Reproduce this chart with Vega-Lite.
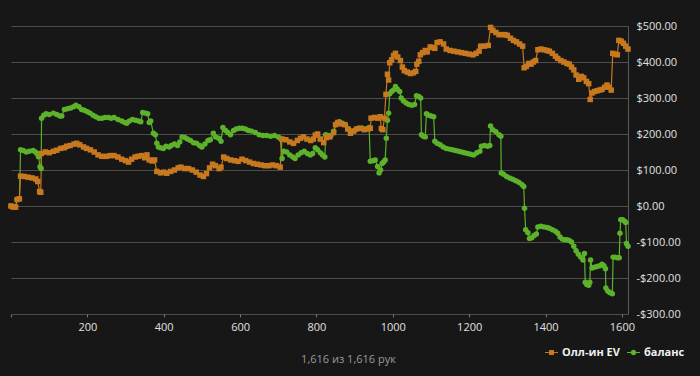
{
"$schema": "https://vega.github.io/schema/vega-lite/v6.json",
"width": 617, "height": 288,
"autosize": {"type": "none"},
"padding": {"left": 11, "top": 26, "right": 72, "bottom": 62},
"background": "#171717",
"config": {"view": {"stroke": null}, "font": "Open Sans"},
"data": {"values": [
{"s":"баланс","h":0,"v":0},{"s":"баланс","h":12,"v":-2},{"s":"баланс","h":16,"v":18},{"s":"баланс","h":22,"v":20},{"s":"баланс","h":25,"v":156},{"s":"баланс","h":32,"v":154},{"s":"баланс","h":40,"v":150},{"s":"баланс","h":48,"v":152},{"s":"баланс","h":58,"v":154},{"s":"баланс","h":64,"v":150},{"s":"баланс","h":68,"v":146},{"s":"баланс","h":72,"v":137},{"s":"баланс","h":76,"v":109},{"s":"баланс","h":79,"v":104},{"s":"баланс","h":80,"v":244},{"s":"баланс","h":86,"v":252},{"s":"баланс","h":92,"v":256},{"s":"баланс","h":100,"v":254},{"s":"баланс","h":111,"v":258},{"s":"баланс","h":120,"v":254},{"s":"баланс","h":128,"v":250},{"s":"баланс","h":133,"v":250},{"s":"баланс","h":140,"v":268},{"s":"баланс","h":148,"v":270},{"s":"баланс","h":156,"v":272},{"s":"баланс","h":164,"v":276},{"s":"баланс","h":170,"v":280},{"s":"баланс","h":178,"v":276},{"s":"баланс","h":185,"v":268},{"s":"баланс","h":192,"v":266},{"s":"баланс","h":200,"v":262},{"s":"баланс","h":207,"v":258},{"s":"баланс","h":215,"v":252},{"s":"баланс","h":222,"v":248},{"s":"баланс","h":230,"v":244},{"s":"баланс","h":238,"v":244},{"s":"баланс","h":246,"v":246},{"s":"баланс","h":255,"v":246},{"s":"баланс","h":262,"v":244},{"s":"баланс","h":270,"v":246},{"s":"баланс","h":280,"v":240},{"s":"баланс","h":290,"v":236},{"s":"баланс","h":298,"v":232},{"s":"баланс","h":303,"v":230},{"s":"баланс","h":310,"v":236},{"s":"баланс","h":318,"v":240},{"s":"баланс","h":326,"v":238},{"s":"баланс","h":334,"v":236},{"s":"баланс","h":340,"v":234},{"s":"баланс","h":345,"v":260},{"s":"баланс","h":352,"v":258},{"s":"баланс","h":358,"v":256},{"s":"баланс","h":362,"v":232},{"s":"баланс","h":366,"v":236},{"s":"баланс","h":373,"v":202},{"s":"баланс","h":378,"v":198},{"s":"баланс","h":382,"v":174},{"s":"баланс","h":386,"v":164},{"s":"баланс","h":392,"v":162},{"s":"баланс","h":399,"v":160},{"s":"баланс","h":406,"v":166},{"s":"баланс","h":414,"v":164},{"s":"баланс","h":420,"v":168},{"s":"баланс","h":428,"v":172},{"s":"баланс","h":436,"v":168},{"s":"баланс","h":442,"v":178},{"s":"баланс","h":448,"v":192},{"s":"баланс","h":455,"v":190},{"s":"баланс","h":462,"v":186},{"s":"баланс","h":470,"v":182},{"s":"баланс","h":478,"v":176},{"s":"баланс","h":486,"v":174},{"s":"баланс","h":494,"v":168},{"s":"баланс","h":500,"v":164},{"s":"баланс","h":508,"v":172},{"s":"баланс","h":516,"v":182},{"s":"баланс","h":522,"v":184},{"s":"баланс","h":530,"v":202},{"s":"баланс","h":536,"v":192},{"s":"баланс","h":544,"v":188},{"s":"баланс","h":550,"v":180},{"s":"баланс","h":555,"v":218},{"s":"баланс","h":562,"v":210},{"s":"баланс","h":568,"v":204},{"s":"баланс","h":575,"v":198},{"s":"баланс","h":583,"v":210},{"s":"баланс","h":590,"v":214},{"s":"баланс","h":598,"v":216},{"s":"баланс","h":606,"v":216},{"s":"баланс","h":614,"v":214},{"s":"баланс","h":622,"v":210},{"s":"баланс","h":630,"v":208},{"s":"баланс","h":640,"v":204},{"s":"баланс","h":650,"v":198},{"s":"баланс","h":660,"v":196},{"s":"баланс","h":670,"v":196},{"s":"баланс","h":680,"v":194},{"s":"баланс","h":690,"v":196},{"s":"баланс","h":700,"v":192},{"s":"баланс","h":705,"v":188},{"s":"баланс","h":710,"v":132},{"s":"баланс","h":714,"v":152},{"s":"баланс","h":722,"v":150},{"s":"баланс","h":730,"v":142},{"s":"баланс","h":738,"v":136},{"s":"баланс","h":744,"v":132},{"s":"баланс","h":752,"v":142},{"s":"баланс","h":760,"v":148},{"s":"баланс","h":768,"v":152},{"s":"баланс","h":776,"v":146},{"s":"баланс","h":784,"v":142},{"s":"баланс","h":790,"v":146},{"s":"баланс","h":797,"v":162},{"s":"баланс","h":803,"v":156},{"s":"баланс","h":810,"v":148},{"s":"баланс","h":816,"v":142},{"s":"баланс","h":822,"v":136},{"s":"баланс","h":824,"v":198},{"s":"баланс","h":830,"v":196},{"s":"баланс","h":838,"v":196},{"s":"баланс","h":845,"v":208},{"s":"баланс","h":852,"v":228},{"s":"баланс","h":860,"v":234},{"s":"баланс","h":868,"v":230},{"s":"баланс","h":876,"v":226},{"s":"баланс","h":884,"v":214},{"s":"баланс","h":892,"v":206},{"s":"баланс","h":900,"v":210},{"s":"баланс","h":910,"v":216},{"s":"баланс","h":920,"v":216},{"s":"баланс","h":930,"v":214},{"s":"баланс","h":938,"v":218},{"s":"баланс","h":941,"v":124},{"s":"баланс","h":948,"v":126},{"s":"баланс","h":954,"v":128},{"s":"баланс","h":960,"v":110},{"s":"баланс","h":964,"v":92},{"s":"баланс","h":968,"v":100},{"s":"баланс","h":972,"v":118},{"s":"баланс","h":976,"v":122},{"s":"баланс","h":980,"v":128},{"s":"баланс","h":983,"v":188},{"s":"баланс","h":986,"v":238},{"s":"баланс","h":989,"v":258},{"s":"баланс","h":992,"v":312},{"s":"баланс","h":997,"v":318},{"s":"баланс","h":1002,"v":322},{"s":"баланс","h":1007,"v":332},{"s":"баланс","h":1012,"v":324},{"s":"баланс","h":1018,"v":318},{"s":"баланс","h":1022,"v":300},{"s":"баланс","h":1028,"v":292},{"s":"баланс","h":1035,"v":286},{"s":"баланс","h":1042,"v":282},{"s":"баланс","h":1050,"v":280},{"s":"баланс","h":1057,"v":282},{"s":"баланс","h":1062,"v":306},{"s":"баланс","h":1068,"v":304},{"s":"баланс","h":1073,"v":300},{"s":"баланс","h":1075,"v":198},{"s":"баланс","h":1080,"v":194},{"s":"баланс","h":1085,"v":192},{"s":"баланс","h":1088,"v":256},{"s":"баланс","h":1094,"v":252},{"s":"баланс","h":1100,"v":250},{"s":"баланс","h":1107,"v":248},{"s":"баланс","h":1110,"v":180},{"s":"баланс","h":1116,"v":174},{"s":"баланс","h":1124,"v":170},{"s":"баланс","h":1132,"v":164},{"s":"баланс","h":1140,"v":160},{"s":"баланс","h":1148,"v":158},{"s":"баланс","h":1156,"v":156},{"s":"баланс","h":1164,"v":154},{"s":"баланс","h":1172,"v":152},{"s":"баланс","h":1180,"v":150},{"s":"баланс","h":1188,"v":148},{"s":"баланс","h":1196,"v":146},{"s":"баланс","h":1204,"v":144},{"s":"баланс","h":1212,"v":142},{"s":"баланс","h":1220,"v":148},{"s":"баланс","h":1228,"v":152},{"s":"баланс","h":1232,"v":166},{"s":"баланс","h":1240,"v":168},{"s":"баланс","h":1248,"v":166},{"s":"баланс","h":1254,"v":168},{"s":"баланс","h":1256,"v":222},{"s":"баланс","h":1262,"v":212},{"s":"баланс","h":1270,"v":206},{"s":"баланс","h":1278,"v":198},{"s":"баланс","h":1283,"v":194},{"s":"баланс","h":1284,"v":92},{"s":"баланс","h":1290,"v":88},{"s":"баланс","h":1298,"v":82},{"s":"баланс","h":1306,"v":78},{"s":"баланс","h":1314,"v":74},{"s":"баланс","h":1322,"v":70},{"s":"баланс","h":1330,"v":66},{"s":"баланс","h":1338,"v":60},{"s":"баланс","h":1343,"v":54},{"s":"баланс","h":1345,"v":-6},{"s":"баланс","h":1348,"v":-66},{"s":"баланс","h":1354,"v":-74},{"s":"баланс","h":1358,"v":-90},{"s":"баланс","h":1364,"v":-88},{"s":"баланс","h":1370,"v":-82},{"s":"баланс","h":1376,"v":-78},{"s":"баланс","h":1380,"v":-58},{"s":"баланс","h":1388,"v":-56},{"s":"баланс","h":1396,"v":-58},{"s":"баланс","h":1404,"v":-60},{"s":"баланс","h":1410,"v":-62},{"s":"баланс","h":1418,"v":-66},{"s":"баланс","h":1426,"v":-70},{"s":"баланс","h":1432,"v":-76},{"s":"баланс","h":1438,"v":-86},{"s":"баланс","h":1444,"v":-92},{"s":"баланс","h":1450,"v":-94},{"s":"баланс","h":1456,"v":-94},{"s":"баланс","h":1462,"v":-96},{"s":"баланс","h":1468,"v":-100},{"s":"баланс","h":1474,"v":-112},{"s":"баланс","h":1480,"v":-124},{"s":"баланс","h":1486,"v":-134},{"s":"баланс","h":1492,"v":-142},{"s":"баланс","h":1498,"v":-150},{"s":"баланс","h":1502,"v":-132},{"s":"баланс","h":1504,"v":-212},{"s":"баланс","h":1508,"v":-218},{"s":"баланс","h":1513,"v":-220},{"s":"баланс","h":1516,"v":-212},{"s":"баланс","h":1518,"v":-150},{"s":"баланс","h":1522,"v":-172},{"s":"баланс","h":1528,"v":-170},{"s":"баланс","h":1535,"v":-168},{"s":"баланс","h":1542,"v":-166},{"s":"баланс","h":1548,"v":-162},{"s":"баланс","h":1553,"v":-166},{"s":"баланс","h":1557,"v":-174},{"s":"баланс","h":1558,"v":-228},{"s":"баланс","h":1563,"v":-236},{"s":"баланс","h":1568,"v":-240},{"s":"баланс","h":1575,"v":-244},{"s":"баланс","h":1577,"v":-142},{"s":"баланс","h":1582,"v":-142},{"s":"баланс","h":1588,"v":-144},{"s":"баланс","h":1593,"v":-144},{"s":"баланс","h":1595,"v":-76},{"s":"баланс","h":1597,"v":-38},{"s":"баланс","h":1602,"v":-38},{"s":"баланс","h":1607,"v":-42},{"s":"баланс","h":1610,"v":-46},{"s":"баланс","h":1612,"v":-104},{"s":"баланс","h":1616,"v":-112},
{"s":"Олл-ин EV","h":0,"v":0},{"s":"Олл-ин EV","h":5,"v":-3},{"s":"Олл-ин EV","h":12,"v":-3},{"s":"Олл-ин EV","h":16,"v":18},{"s":"Олл-ин EV","h":22,"v":20},{"s":"Олл-ин EV","h":25,"v":83},{"s":"Олл-ин EV","h":35,"v":82},{"s":"Олл-ин EV","h":45,"v":80},{"s":"Олл-ин EV","h":55,"v":78},{"s":"Олл-ин EV","h":65,"v":75},{"s":"Олл-ин EV","h":70,"v":68},{"s":"Олл-ин EV","h":75,"v":40},{"s":"Олл-ин EV","h":78,"v":38},{"s":"Олл-ин EV","h":80,"v":146},{"s":"Олл-ин EV","h":90,"v":150},{"s":"Олл-ин EV","h":100,"v":148},{"s":"Олл-ин EV","h":111,"v":152},{"s":"Олл-ин EV","h":120,"v":155},{"s":"Олл-ин EV","h":130,"v":160},{"s":"Олл-ин EV","h":140,"v":162},{"s":"Олл-ин EV","h":146,"v":166},{"s":"Олл-ин EV","h":155,"v":168},{"s":"Олл-ин EV","h":165,"v":172},{"s":"Олл-ин EV","h":172,"v":174},{"s":"Олл-ин EV","h":180,"v":170},{"s":"Олл-ин EV","h":190,"v":164},{"s":"Олл-ин EV","h":198,"v":160},{"s":"Олл-ин EV","h":208,"v":156},{"s":"Олл-ин EV","h":218,"v":150},{"s":"Олл-ин EV","h":228,"v":142},{"s":"Олл-ин EV","h":238,"v":138},{"s":"Олл-ин EV","h":250,"v":138},{"s":"Олл-ин EV","h":260,"v":140},{"s":"Олл-ин EV","h":270,"v":140},{"s":"Олл-ин EV","h":280,"v":136},{"s":"Олл-ин EV","h":290,"v":130},{"s":"Олл-ин EV","h":300,"v":126},{"s":"Олл-ин EV","h":308,"v":122},{"s":"Олл-ин EV","h":316,"v":130},{"s":"Олл-ин EV","h":325,"v":136},{"s":"Олл-ин EV","h":333,"v":138},{"s":"Олл-ин EV","h":342,"v":140},{"s":"Олл-ин EV","h":350,"v":134},{"s":"Олл-ин EV","h":356,"v":142},{"s":"Олл-ин EV","h":362,"v":128},{"s":"Олл-ин EV","h":370,"v":125},{"s":"Олл-ин EV","h":376,"v":128},{"s":"Олл-ин EV","h":382,"v":96},{"s":"Олл-ин EV","h":392,"v":92},{"s":"Олл-ин EV","h":400,"v":94},{"s":"Олл-ин EV","h":408,"v":91},{"s":"Олл-ин EV","h":418,"v":96},{"s":"Олл-ин EV","h":428,"v":100},{"s":"Олл-ин EV","h":438,"v":106},{"s":"Олл-ин EV","h":445,"v":108},{"s":"Олл-ин EV","h":455,"v":104},{"s":"Олл-ин EV","h":465,"v":104},{"s":"Олл-ин EV","h":475,"v":100},{"s":"Олл-ин EV","h":485,"v":94},{"s":"Олл-ин EV","h":495,"v":86},{"s":"Олл-ин EV","h":504,"v":82},{"s":"Олл-ин EV","h":512,"v":90},{"s":"Олл-ин EV","h":520,"v":106},{"s":"Олл-ин EV","h":528,"v":116},{"s":"Олл-ин EV","h":535,"v":112},{"s":"Олл-ин EV","h":545,"v":104},{"s":"Олл-ин EV","h":550,"v":108},{"s":"Олл-ин EV","h":557,"v":136},{"s":"Олл-ин EV","h":565,"v":132},{"s":"Олл-ин EV","h":575,"v":128},{"s":"Олл-ин EV","h":585,"v":126},{"s":"Олл-ин EV","h":595,"v":124},{"s":"Олл-ин EV","h":605,"v":130},{"s":"Олл-ин EV","h":615,"v":126},{"s":"Олл-ин EV","h":625,"v":122},{"s":"Олл-ин EV","h":635,"v":118},{"s":"Олл-ин EV","h":645,"v":116},{"s":"Олл-ин EV","h":655,"v":114},{"s":"Олл-ин EV","h":665,"v":112},{"s":"Олл-ин EV","h":675,"v":112},{"s":"Олл-ин EV","h":685,"v":114},{"s":"Олл-ин EV","h":695,"v":112},{"s":"Олл-ин EV","h":705,"v":108},{"s":"Олл-ин EV","h":710,"v":186},{"s":"Олл-ин EV","h":720,"v":184},{"s":"Олл-ин EV","h":730,"v":178},{"s":"Олл-ин EV","h":740,"v":174},{"s":"Олл-ин EV","h":750,"v":182},{"s":"Олл-ин EV","h":758,"v":188},{"s":"Олл-ин EV","h":766,"v":192},{"s":"Олл-ин EV","h":775,"v":186},{"s":"Олл-ин EV","h":785,"v":182},{"s":"Олл-ин EV","h":792,"v":186},{"s":"Олл-ин EV","h":797,"v":197},{"s":"Олл-ин EV","h":803,"v":200},{"s":"Олл-ин EV","h":810,"v":186},{"s":"Олл-ин EV","h":819,"v":176},{"s":"Олл-ин EV","h":826,"v":190},{"s":"Олл-ин EV","h":835,"v":192},{"s":"Олл-ин EV","h":845,"v":204},{"s":"Олл-ин EV","h":850,"v":226},{"s":"Олл-ин EV","h":856,"v":232},{"s":"Олл-ин EV","h":865,"v":228},{"s":"Олл-ин EV","h":874,"v":226},{"s":"Олл-ин EV","h":882,"v":214},{"s":"Олл-ин EV","h":889,"v":202},{"s":"Олл-ин EV","h":897,"v":208},{"s":"Олл-ин EV","h":905,"v":214},{"s":"Олл-ин EV","h":915,"v":216},{"s":"Олл-ин EV","h":925,"v":212},{"s":"Олл-ин EV","h":935,"v":214},{"s":"Олл-ин EV","h":941,"v":216},{"s":"Олл-ин EV","h":943,"v":244},{"s":"Олл-ин EV","h":952,"v":246},{"s":"Олл-ин EV","h":960,"v":244},{"s":"Олл-ин EV","h":967,"v":248},{"s":"Олл-ин EV","h":970,"v":215},{"s":"Олл-ин EV","h":974,"v":212},{"s":"Олл-ин EV","h":978,"v":244},{"s":"Олл-ин EV","h":982,"v":310},{"s":"Олл-ин EV","h":986,"v":366},{"s":"Олл-ин EV","h":989,"v":350},{"s":"Олл-ин EV","h":992,"v":398},{"s":"Олл-ин EV","h":997,"v":406},{"s":"Олл-ин EV","h":1002,"v":418},{"s":"Олл-ин EV","h":1007,"v":424},{"s":"Олл-ин EV","h":1013,"v":414},{"s":"Олл-ин EV","h":1020,"v":404},{"s":"Олл-ин EV","h":1025,"v":386},{"s":"Олл-ин EV","h":1030,"v":376},{"s":"Олл-ин EV","h":1038,"v":372},{"s":"Олл-ин EV","h":1046,"v":368},{"s":"Олл-ин EV","h":1054,"v":370},{"s":"Олл-ин EV","h":1060,"v":374},{"s":"Олл-ин EV","h":1063,"v":394},{"s":"Олл-ин EV","h":1068,"v":402},{"s":"Олл-ин EV","h":1072,"v":420},{"s":"Олл-ин EV","h":1078,"v":426},{"s":"Олл-ин EV","h":1085,"v":432},{"s":"Олл-ин EV","h":1090,"v":428},{"s":"Олл-ин EV","h":1098,"v":442},{"s":"Олл-ин EV","h":1104,"v":440},{"s":"Олл-ин EV","h":1110,"v":438},{"s":"Олл-ин EV","h":1116,"v":454},{"s":"Олл-ин EV","h":1124,"v":456},{"s":"Олл-ин EV","h":1133,"v":450},{"s":"Олл-ин EV","h":1140,"v":436},{"s":"Олл-ин EV","h":1150,"v":432},{"s":"Олл-ин EV","h":1160,"v":430},{"s":"Олл-ин EV","h":1170,"v":428},{"s":"Олл-ин EV","h":1180,"v":426},{"s":"Олл-ин EV","h":1190,"v":424},{"s":"Олл-ин EV","h":1200,"v":422},{"s":"Олл-ин EV","h":1210,"v":420},{"s":"Олл-ин EV","h":1218,"v":424},{"s":"Олл-ин EV","h":1226,"v":430},{"s":"Олл-ин EV","h":1230,"v":444},{"s":"Олл-ин EV","h":1240,"v":444},{"s":"Олл-ин EV","h":1250,"v":446},{"s":"Олл-ин EV","h":1256,"v":496},{"s":"Олл-ин EV","h":1262,"v":488},{"s":"Олл-ин EV","h":1270,"v":482},{"s":"Олл-ин EV","h":1278,"v":476},{"s":"Олл-ин EV","h":1286,"v":476},{"s":"Олл-ин EV","h":1294,"v":476},{"s":"Олл-ин EV","h":1300,"v":474},{"s":"Олл-ин EV","h":1308,"v":466},{"s":"Олл-ин EV","h":1316,"v":460},{"s":"Олл-ин EV","h":1324,"v":456},{"s":"Олл-ин EV","h":1332,"v":450},{"s":"Олл-ин EV","h":1340,"v":444},{"s":"Олл-ин EV","h":1344,"v":384},{"s":"Олл-ин EV","h":1350,"v":388},{"s":"Олл-ин EV","h":1356,"v":396},{"s":"Олл-ин EV","h":1362,"v":394},{"s":"Олл-ин EV","h":1368,"v":400},{"s":"Олл-ин EV","h":1374,"v":404},{"s":"Олл-ин EV","h":1380,"v":434},{"s":"Олл-ин EV","h":1388,"v":436},{"s":"Олл-ин EV","h":1396,"v":434},{"s":"Олл-ин EV","h":1404,"v":432},{"s":"Олл-ин EV","h":1410,"v":430},{"s":"Олл-ин EV","h":1418,"v":424},{"s":"Олл-ин EV","h":1426,"v":416},{"s":"Олл-ин EV","h":1432,"v":410},{"s":"Олл-ин EV","h":1440,"v":404},{"s":"Олл-ин EV","h":1448,"v":400},{"s":"Олл-ин EV","h":1456,"v":396},{"s":"Олл-ин EV","h":1462,"v":394},{"s":"Олл-ин EV","h":1468,"v":386},{"s":"Олл-ин EV","h":1474,"v":378},{"s":"Олл-ин EV","h":1480,"v":364},{"s":"Олл-ин EV","h":1487,"v":352},{"s":"Олл-ин EV","h":1494,"v":360},{"s":"Олл-ин EV","h":1500,"v":356},{"s":"Олл-ин EV","h":1507,"v":346},{"s":"Олл-ин EV","h":1513,"v":340},{"s":"Олл-ин EV","h":1517,"v":296},{"s":"Олл-ин EV","h":1522,"v":314},{"s":"Олл-ин EV","h":1528,"v":318},{"s":"Олл-ин EV","h":1535,"v":320},{"s":"Олл-ин EV","h":1542,"v":322},{"s":"Олл-ин EV","h":1548,"v":324},{"s":"Олл-ин EV","h":1555,"v":330},{"s":"Олл-ин EV","h":1561,"v":336},{"s":"Олл-ин EV","h":1566,"v":330},{"s":"Олл-ин EV","h":1572,"v":322},{"s":"Олл-ин EV","h":1576,"v":424},{"s":"Олл-ин EV","h":1582,"v":422},{"s":"Олл-ин EV","h":1588,"v":420},{"s":"Олл-ин EV","h":1592,"v":460},{"s":"Олл-ин EV","h":1598,"v":458},{"s":"Олл-ин EV","h":1604,"v":452},{"s":"Олл-ин EV","h":1610,"v":444},{"s":"Олл-ин EV","h":1616,"v":436}
]},
"encoding": {
  "x": {"field": "h", "type": "quantitative",
    "scale": {"domain": [0, 1616], "nice": false, "zero": false},
    "axis": {"values": [0, 200, 400, 600, 800, 1000, 1200, 1400, 1600], "format": "d",
      "labelExpr": "datum.value == 0 ? '' : datum.label",
      "grid": false, "domain": false, "ticks": true, "tickColor": "#777777", "tickSize": 3,
      "labelColor": "#e0e0e0", "labelFontSize": 11, "labelPadding": 4, "labelFlush": false,
      "title": "1,616 из 1,616 рук", "titleColor": "#9a9a9a", "titleFontWeight": "normal",
      "titleFontSize": 11, "titleX": 337, "titleY": 45, "titleAlign": "center", "titleBaseline": "middle"}},
  "y": {"field": "v", "type": "quantitative",
    "scale": {"domain": [-300, 500], "nice": false},
    "axis": {"orient": "right", "values": [-300, -200, -100, 0, 100, 200, 300, 400, 500],
      "labelExpr": "(datum.value < 0 ? '-' : '') + '$' + format(abs(datum.value), ',.2f')",
      "grid": true, "gridColor": "#4d4d4d", "domain": true, "domainColor": "#5a5a5a",
      "ticks": false, "labelColor": "#e0e0e0", "labelFontSize": 11, "labelPadding": 8, "title": null}}
},
"layer": [
  {"mark": {"type": "line", "strokeWidth": 1.2},
   "encoding": {"stroke": {"field": "s", "type": "nominal",
     "scale": {"domain": ["баланс", "Олл-ин EV"], "range": ["#5cb22a", "#c8781e"]},
     "legend": {"values": ["баланс"], "orient": "none", "legendX": 616, "legendY": 320,
       "title": null, "labelColor": "#f0f0f0", "labelFontSize": 11, "labelFontWeight": "bold",
       "labelLimit": 200, "symbolSize": 169, "symbolStrokeWidth": 0, "symbolFillColor": "#5cb22a", "labelOffset": 4,
       "symbolType": "M-1,-0.09H1V0.09H-1Z M-0.42,0A0.42,0.42,0,1,1,0.42,0A0.42,0.42,0,1,1,-0.42,0Z"}}}},
  {"mark": {"type": "point", "filled": true, "size": 30, "opacity": 1},
   "encoding": {
     "color": {"field": "s", "type": "nominal",
       "scale": {"domain": ["Олл-ин EV", "баланс"], "range": ["#c8781e", "#5cb22a"]},
       "legend": {"values": ["Олл-ин EV"], "orient": "none", "legendX": 534, "legendY": 320,
         "title": null, "labelColor": "#f0f0f0", "labelFontSize": 11, "labelFontWeight": "bold",
         "labelLimit": 200, "symbolSize": 169, "symbolStrokeWidth": 0, "labelOffset": 4,
         "symbolType": "M-1,-0.09H1V0.09H-1Z M-0.38,-0.38H0.38V0.38H-0.38Z"}},
     "shape": {"field": "s", "type": "nominal", "legend": null,
       "scale": {"domain": ["Олл-ин EV", "баланс", "x"], "range": ["square", "circle", "diamond"]}}}}
]
}
